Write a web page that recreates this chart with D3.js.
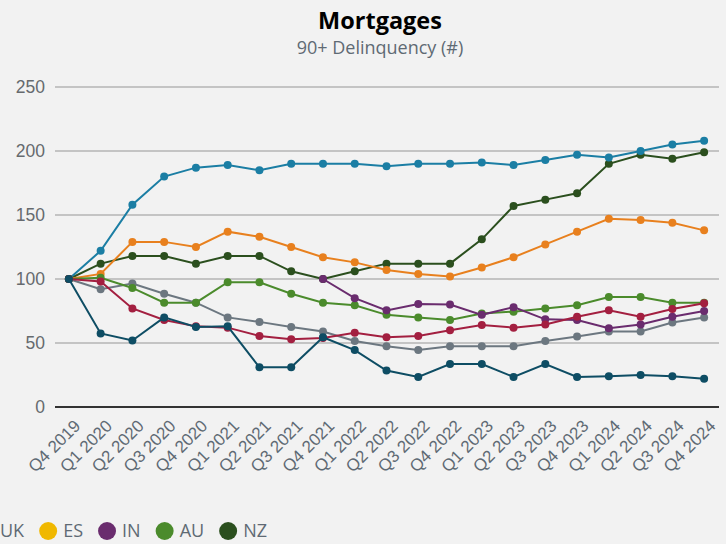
<!DOCTYPE html>
<html>
<head>
<meta charset="utf-8">
<script src="https://cdn.jsdelivr.net/npm/d3@7"></script>
<style>
  body { margin: 0; background: #f2f2f2; }
  svg { display: block; }
</style>
</head>
<body>
<div id="chart-area"></div>
<script>
// Mortgages - 90+ delinquency, indexed to Q4 2019 = 100

var quarters = ["Q4 2019", "Q1 2020", "Q2 2020", "Q3 2020", "Q4 2020", "Q1 2021", "Q2 2021",
    "Q3 2021", "Q4 2021", "Q1 2022", "Q2 2022", "Q3 2022", "Q4 2022", "Q1 2023", "Q2 2023",
    "Q3 2023", "Q4 2023", "Q1 2024", "Q2 2024", "Q3 2024", "Q4 2024"];

var yTicks = [0, 50, 100, 150, 200, 250];

var blueSeries   = [100, 122, 158, 180, 187, 189, 185, 190, 190, 190, 188, 190, 190, 191, 189, 193, 197, 195, 200, 205, 208];
var orangeSeries = [100, 104, 129, 129, 125, 137, 133, 125, 117, 113, 107, 104, 102, 109, 117, 127, 137, 147, 146, 144, 138];
var graySeries   = [100, 92, 96.5, 88.5, 81.5, 70, 66.5, 62.5, 59, 51.5, 47.5, 44.5, 47.5, 47.5, 47.5, 51.5, 55, 59, 59, 66, 70];
var redSeries    = [100, 98, 77, 68, 63, 62, 55.5, 53, 54, 58, 54.5, 55.5, 60, 64, 62, 64.5, 70.5, 75.5, 70.5, 76.5, 81];
var tealSeries   = [100, 57.5, 52, 70, 62.5, 63, 31, 31, 54.5, 44.5, 28.5, 23.5, 33.5, 33.5, 23.5, 33.5, 23.5, 24, 25, 24, 22];
var auSeries     = [100, 101, 93, 81.5, 81.5, 97.5, 97.5, 88.5, 81.5, 79.5, 72, 70, 68, 73, 74.5, 77, 79.5, 86, 86, 81.5, 81.5];
var inSeries     = [null, null, null, null, null, null, null, null, 100, 85, 75.5, 80.5, 80, 72, 78, 68.5, 68, 61.5, 64.5, 70.5, 75];
var nzSeries     = [100, 112, 118, 118, 112, 118, 118, 106, 100, 106, 112, 112, 112, 131, 157, 162, 167, 190, 197, 194, 199];

// drawing order (last on top)
var seriesList = [
    { values: nzSeries,     color: "#2b4f1e" },
    { values: blueSeries,   color: "#1b7ea4" },
    { values: orangeSeries, color: "#e8801e" },
    { values: graySeries,   color: "#6c7780" },
    { values: auSeries,     color: "#4b8b2c" },
    { values: inSeries,     color: "#6a2c6e" },
    { values: redSeries,    color: "#a31f40" },
    { values: tealSeries,   color: "#0e4d64" }
];

var legendNames  = ["UK", "ES", "IN", "AU", "NZ"];
var legendColors = ["#6c7780", "#f0b800", "#6a2c6e", "#4b8b2c", "#2b4f1e"];

var width = 726, height = 544;

var svg = d3.select("#chart-area")
    .append("svg")
        .attr("width", width)
        .attr("height", height);

svg.append("rect")
    .attr("width", width)
    .attr("height", height)
    .attr("fill", "#f2f2f2");

// Titles
svg.append("text")
    .attr("x", 380)
    .attr("y", 29)
    .attr("text-anchor", "middle")
    .attr("font-family", "Open Sans")
    .attr("font-weight", "bold")
    .attr("font-size", "23.5px")
    .attr("fill", "#000")
    .text("Mortgages");

svg.append("text")
    .attr("x", 380)
    .attr("y", 54)
    .attr("text-anchor", "middle")
    .attr("font-family", "Open Sans")
    .attr("font-size", "18px")
    .attr("fill", "#5f6a74")
    .text("90+ Delinquency (#)");

// Scales
var x = d3.scalePoint()
    .domain(quarters)
    .range([53, 720])
    .padding(0.5);

var y = d3.scaleLinear()
    .domain([0, 250])
    .range([407, 87]);

// Grid
svg.append("g")
    .selectAll("line")
    .data(yTicks.filter(function(d){ return d > 0; }))
    .enter().append("line")
        .attr("x1", 55)
        .attr("x2", 719)
        .attr("y1", function(d){ return y(d); })
        .attr("y2", function(d){ return y(d); })
        .attr("stroke", "#c4c4c4")
        .attr("stroke-width", 2);

svg.append("line")
    .attr("x1", 55)
    .attr("x2", 719)
    .attr("y1", y(0))
    .attr("y2", y(0))
    .attr("stroke", "#333")
    .attr("stroke-width", 2);

// Y axis labels
var yAxis = svg.append("g")
    .attr("transform", "translate(45,0)")
    .call(d3.axisLeft(y).tickValues(yTicks).tickSize(0).tickPadding(0));
yAxis.select(".domain").remove();
yAxis.selectAll("text")
    .attr("font-family", "Liberation Sans")
    .attr("font-size", "17.5px")
    .attr("fill", "#666a6e");

// X axis labels
var xAxis = svg.append("g")
    .attr("transform", "translate(0," + y(0) + ")")
    .call(d3.axisBottom(x).tickSize(0).tickPadding(0));
xAxis.select(".domain").remove();
xAxis.selectAll("text")
    .attr("font-family", "Liberation Sans")
    .attr("font-size", "17px")
    .attr("fill", "#5f6a74")
    .attr("text-anchor", "end")
    .attr("dy", "0")
    .attr("transform", "translate(12,20) rotate(-45)");

// Lines and markers
var line = d3.line()
    .defined(function(d){ return d != null; })
    .x(function(d, i){ return x(quarters[i]); })
    .y(function(d){ return y(d); });

seriesList.forEach(function(s){
    var g = svg.append("g");
    g.append("path")
        .datum(s.values)
        .attr("d", line)
        .attr("fill", "none")
        .attr("stroke", s.color)
        .attr("stroke-width", 2);

    g.selectAll("circle")
        .data(s.values.map(function(v, i){ return { q: quarters[i], v: v }; })
            .filter(function(d){ return d.v != null; }))
        .enter().append("circle")
            .attr("cx", function(d){ return x(d.q); })
            .attr("cy", function(d){ return y(d.v); })
            .attr("r", 4)
            .attr("fill", s.color);
});

// Legend (centered row that overflows left edge)
var legend = svg.append("g")
    .attr("transform", "translate(0,531)");

var lx = -24;
legendNames.forEach(function(name, i){
    var row = legend.append("g");
    row.append("circle")
        .attr("cx", lx + 9)
        .attr("cy", 0)
        .attr("r", 9)
        .attr("fill", legendColors[i]);
    var t = row.append("text")
        .attr("x", lx + 24)
        .attr("y", 6)
        .attr("font-family", "Open Sans")
        .attr("font-size", "18px")
        .attr("fill", "#5f6a74")
        .text(name);
    lx = lx + 24 + t.node().getComputedTextLength() + 15;
});
</script>
</body>
</html>
